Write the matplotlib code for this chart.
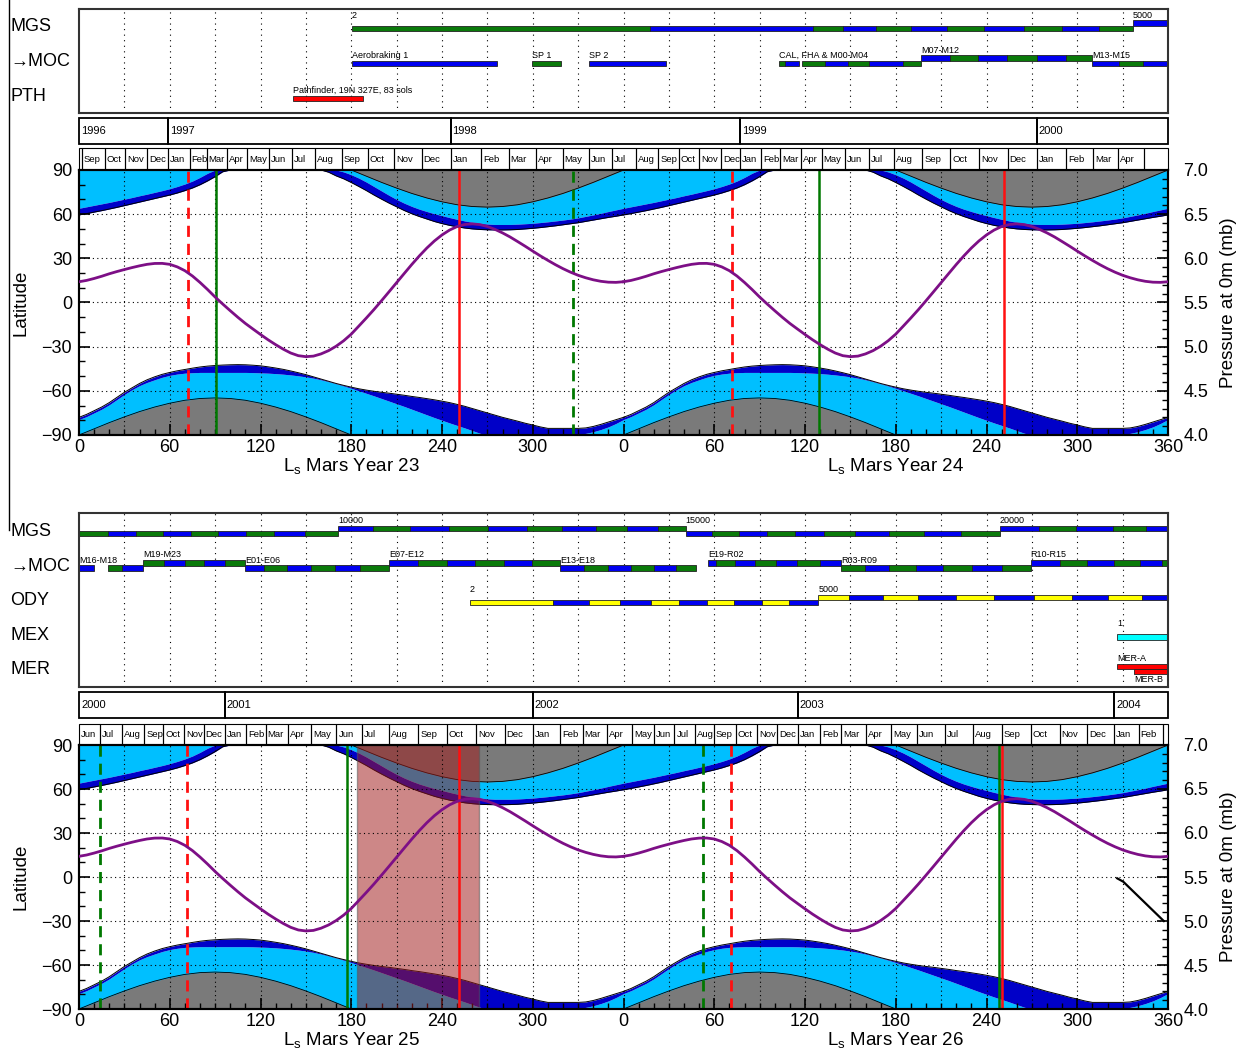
import matplotlib
matplotlib.use('Agg')
import matplotlib.pyplot as plt
import matplotlib.transforms as mtransforms
from matplotlib.patches import Rectangle
from matplotlib.lines import Line2D
import numpy as np

plt.rcParams['font.family'] = ['Liberation Sans', 'DejaVu Sans']
plt.rcParams['mathtext.fontset'] = 'custom'
plt.rcParams['mathtext.rm'] = 'Liberation Sans'

# ---- seasonal climatology, one Mars year (Ls step 5) ----
LS = list(range(0, 361, 5))
N_CAP_IN = [64.0, 65.0, 66.0, 67.0, 68.0, 69.1, 70.2, 71.3, 72.5, 73.6, 74.8, 76.0, 77.3, 78.8,
            80.5, 82.5, 85.0, 87.8, 90, 90, 90, 90, 90, 90, 90, 90, 90, 90, 90, 90, 90, 90, 90,
            90, 90, 88.7, 86.8, 84.5, 81.8, 78.8, 75.8, 72.8, 70.0, 67.5, 65.3, 63.4, 61.8, 60.3,
            59.0, 57.7, 56.5, 55.4, 54.5, 53.8, 53.3, 53.0, 53.0, 53.0, 53.2, 53.5, 53.8, 54.3,
            54.8, 55.4, 56.0, 56.7, 57.5, 58.5, 59.5, 60.6, 61.8, 62.9, 64.0]
N_CAP_OUT = [59.5, 60.4, 61.4, 62.4, 63.5, 64.6, 65.8, 67.0, 68.2, 69.4, 70.6, 71.8, 73.0, 74.4,
             76.0, 77.8, 80.0, 82.6, 85.5, 88.8, 90, 90, 90, 90, 90, 90, 90, 90, 90, 90, 90, 90,
             90, 88.5, 86.0, 84.0, 81.5, 78.8, 76.0, 73.0, 70.2, 67.5, 65.0, 62.5, 60.3, 58.4,
             56.7, 55.0, 53.6, 52.4, 51.4, 50.6, 50.0, 49.6, 49.4, 49.3, 49.3, 49.4, 49.6, 50.0,
             50.4, 50.9, 51.5, 52.1, 52.8, 53.5, 54.2, 55.1, 56.0, 56.9, 57.8, 58.6, 59.5]
S_CAP_IN = [-79.5, -77.5, -75, -72.5, -69.5, -66, -62.5, -59.3, -56.5, -54.3, -52.5, -50.8, -49.5,
            -48.6, -48.0, -47.7, -47.5, -47.5, -47.5, -47.5, -47.5, -47.5, -47.5, -47.6, -47.8,
            -48.0, -48.3, -48.7, -49.2, -49.8, -50.5, -51.4, -52.5, -53.8, -55.2, -56.7, -58.3,
            -60.0, -61.7, -63.4, -65.2, -67.0, -68.8, -70.6, -72.5, -74.4, -76.3, -78.2, -80.0,
            -81.8, -83.5, -85.2, -87.0, -88.8, -90, -90, -90, -90, -90, -90, -90, -90, -90, -90,
            -90, -90, -89.6, -88.9, -87.8, -86.3, -84.5, -82.2, -79.5]
S_CAP_OUT = [-78, -76, -73.5, -71, -68, -64.5, -61, -58, -55, -52.5, -50.5, -48.8, -47.5, -46.4,
             -45.5, -44.6, -43.8, -43.2, -42.8, -42.5, -42.3, -42.2, -42.3, -42.6, -43.0, -43.7,
             -44.5, -45.4, -46.5, -47.7, -49.0, -50.5, -52.0, -53.5, -55.0, -56.3, -57.5, -58.6,
             -59.5, -60.3, -61.0, -61.6, -62.3, -63.0, -63.8, -64.5, -65.3, -66.1, -67.0, -68.0,
             -69.2, -70.5, -72.0, -73.5, -75.0, -76.5, -78.0, -79.3, -80.6, -82.0, -83.2, -84.5,
             -85.5, -85.5, -85.5, -85.5, -85.5, -85.2, -84.2, -82.8, -81.2, -79.6, -78]
LS_N_NIGHT = list(range(180, 361, 10))
N_NIGHT = [90, 85.8, 81.6, 77.7, 74.1, 71.0, 68.4, 66.4, 65.2, 64.8, 65.2, 66.4, 68.4, 71.0, 74.1,
           77.7, 81.6, 85.8, 90]
LS_S_NIGHT = list(range(0, 181, 10))
S_NIGHT = [-90, -85.8, -81.6, -77.7, -74.1, -71.0, -68.4, -66.4, -65.2, -64.8, -65.2, -66.4, -68.4,
           -71.0, -74.1, -77.7, -81.6, -85.8, -90]
PRESSURE = [5.735, 5.750, 5.772, 5.797, 5.825, 5.850, 5.873, 5.895, 5.915, 5.932, 5.942, 5.943,
            5.932, 5.903, 5.860, 5.800, 5.727, 5.647, 5.562, 5.483, 5.407, 5.333, 5.263, 5.200,
            5.138, 5.078, 5.023, 4.972, 4.928, 4.898, 4.887, 4.893, 4.918, 4.955, 5.005, 5.067,
            5.142, 5.233, 5.325, 5.420, 5.520, 5.622, 5.725, 5.828, 5.930, 6.027, 6.117, 6.197,
            6.265, 6.320, 6.360, 6.383, 6.390, 6.382, 6.360, 6.328, 6.288, 6.242, 6.190, 6.137,
            6.082, 6.028, 5.977, 5.928, 5.883, 5.843, 5.808, 5.780, 5.757, 5.740, 5.730, 5.728,
            5.735]

# ---- event lines (Ls over two Mars years) ----
TOP_VLINES = [(72, 'r', '--'), (432, 'r', '--'), (90.6, 'g', '-'), (489, 'g', '-'),
              (251, 'r', '-'), (611.6, 'r', '-'), (326.6, 'g', '--')]
BOT_VLINES = [(14, 'g', '--'), (412.6, 'g', '--'), (71.4, 'r', '--'), (431, 'r', '--'),
              (177, 'g', '-'), (608.3, 'g', '-'), (251, 'r', '-'), (610.4, 'r', '-')]
DUST_STORM = (184, 264.5)
BLACK_LS = [686.4, 690.4, 717.2]
BLACK_P = [5.485, 5.447, 5.0]

# ---- calendar bars ----
TOP_YEARS = ['1996', '1997', '1998', '1999', '2000']
TOP_YEAR_EDGES = [0, 58.8, 245.7, 436.9, 633.2, 720]
TOP_MONTHS = ['', 'Sep', 'Oct', 'Nov', 'Dec', 'Jan', 'Feb', 'Mar', 'Apr', 'May', 'Jun', 'Jul', 'Aug',
              'Sep', 'Oct', 'Nov', 'Dec', 'Jan', 'Feb', 'Mar', 'Apr', 'May', 'Jun', 'Jul', 'Aug',
              'Sep', 'Oct', 'Nov', 'Dec', 'Jan', 'Feb', 'Mar', 'Apr', 'May', 'Jun', 'Jul', 'Aug',
              'Sep', 'Oct', 'Nov', 'Dec', 'Jan', 'Feb', 'Mar', 'Apr', '']
TOP_MONTH_EDGES = [0, 2.0, 17.0, 30.3, 45.0, 58.8, 73.2, 84.4, 98.0, 111.1, 125.5, 140.6, 156.0,
                   173.9, 190.8, 208.3, 226.6, 245.7, 266.0, 284.1, 302.4, 319.7, 337.2, 352.3,
                   368.2, 383.1, 396.5, 410.2, 424.6, 436.9, 450.8, 463.4, 477.1, 491.0, 506.7,
                   522.2, 538.7, 557.6, 576.0, 595.1, 614.0, 633.2, 652.8, 670.7, 686.9, 704.0, 720]
BOT_YEARS = ['2000', '2001', '2002', '2003', '2004']
BOT_YEAR_EDGES = [0, 96.2, 300.0, 475.2, 684.3, 720]
BOT_MONTHS = ['Jun', 'Jul', 'Aug', 'Sep', 'Oct', 'Nov', 'Dec', 'Jan', 'Feb', 'Mar', 'Apr', 'May',
              'Jun', 'Jul', 'Aug', 'Sep', 'Oct', 'Nov', 'Dec', 'Jan', 'Feb', 'Mar', 'Apr', 'May',
              'Jun', 'Jul', 'Aug', 'Sep', 'Oct', 'Nov', 'Dec', 'Jan', 'Feb', 'Mar', 'Apr', 'May',
              'Jun', 'Jul', 'Aug', 'Sep', 'Oct', 'Nov', 'Dec', 'Jan', 'Feb', '']
BOT_MONTH_EDGES = [0, 13.9, 28.2, 43.2, 55.7, 69.6, 82.4, 96.2, 110.3, 123.4, 138.5, 153.7, 170.2,
                   186.9, 205.2, 224.3, 243.0, 262.7, 281.5, 300.0, 318.3, 333.0, 349.4, 365.6,
                   380.0, 393.7, 407.5, 419.8, 434.3, 448.2, 461.8, 475.2, 490.2, 503.8, 520.3,
                   536.9, 553.9, 572.8, 591.2, 610.2, 629.2, 648.4, 666.4, 684.3, 700.6, 716.6, 720]

# ---- mission timelines: (start Ls, end Ls, colour, level) ----
MGS_TOP = [(180.5, 377.5, 'g', 0), (377.5, 485.3, 'b', 0), (485.3, 505.1, 'g', 0),
           (505.1, 526.9, 'b', 0), (526.9, 549.8, 'g', 0), (549.8, 573.9, 'b', 0),
           (573.9, 598.6, 'g', 0), (598.6, 624.8, 'b', 0), (624.8, 649.9, 'g', 0),
           (649.9, 674.6, 'b', 0), (674.6, 696.9, 'g', 0), (696.9, 720, 'b', 1)]
MGS_TOP_LABELS = [(180.5, '2', 1, 'above'), (696.9, '5000', 1, 'above')]
MOC_TOP = [(180.5, 276.4, 'b', 0), (299.5, 318.7, 'g', 0), (337.2, 387.8, 'b', 0),
           (462.8, 466.8, 'g', 0), (466.8, 476.0, 'b', 0), (478.3, 493.2, 'g', 0),
           (493.2, 508.4, 'b', 0), (508.4, 522.3, 'g', 0), (522.3, 544.8, 'b', 0),
           (544.8, 556.7, 'g', 0), (556.7, 575.9, 'b', 1), (575.9, 594.4, 'g', 1),
           (594.4, 613.6, 'b', 1), (613.6, 633.4, 'g', 1), (633.4, 652.6, 'b', 1),
           (652.6, 669.8, 'g', 1), (669.8, 687.5, 'b', 0), (687.5, 703.5, 'g', 0),
           (703.5, 720, 'b', 0)]
MOC_TOP_LABELS = [(180.5, 'Aerobraking 1', 0, 'above'), (299.5, 'SP 1', 0, 'above'),
                  (337.2, 'SP 2', 0, 'above'), (462.8, 'CAL, FHA & M00-M04', 0, 'above'),
                  (556.7, 'M07-M12', 1, 'above'), (669.8, 'M13-M15', 0, 'above')]
PTH_TOP = [(141.7, 187.6, 'r', 0)]
PTH_TOP_LABELS = [(141.7, 'Pathfinder, 19N 327E, 83 sols', 0, 'above')]

MGS_BOT = [(0, 19.2, 'g', 0), (19.2, 38.0, 'b', 0), (38.0, 55.5, 'g', 0), (55.5, 74.0, 'b', 0),
           (74.0, 91.9, 'g', 0), (91.9, 110.1, 'b', 0), (110.1, 129.1, 'g', 0),
           (129.1, 149.4, 'b', 0), (149.4, 171.2, 'g', 0), (171.2, 194.7, 'b', 1),
           (194.7, 218.8, 'g', 1), (218.8, 244.6, 'b', 1), (244.6, 270.4, 'g', 1),
           (270.4, 295.9, 'b', 1), (295.9, 319.3, 'g', 1), (319.3, 342.1, 'b', 1),
           (342.1, 362.3, 'g', 1), (362.3, 382.6, 'b', 1), (382.6, 401.0, 'g', 1),
           (401.0, 418.8, 'b', 0), (418.8, 436.6, 'g', 0), (436.6, 454.7, 'b', 0),
           (454.7, 473.1, 'g', 0), (473.1, 492.8, 'b', 0), (492.8, 513.1, 'g', 0),
           (513.1, 535.3, 'b', 0), (535.3, 558.4, 'g', 0), (558.4, 583.1, 'b', 0),
           (583.1, 608.9, 'g', 0), (608.9, 635.0, 'b', 1), (635.0, 659.2, 'g', 1),
           (659.2, 683.6, 'b', 1), (683.6, 705.3, 'g', 1), (705.3, 720, 'b', 1)]
MGS_BOT_LABELS = [(171.2, '10000', 1, 'above'), (401.0, '15000', 1, 'above'),
                  (608.9, '20000', 1, 'above')]
MOC_BOT = [(0, 9.7, 'b', 0), (19.2, 28.2, 'g', 0), (28.2, 42.3, 'b', 0), (42.3, 56.2, 'g', 1),
           (56.2, 69.8, 'b', 1), (69.8, 82.4, 'g', 1), (82.4, 96.2, 'b', 1), (96.2, 109.8, 'g', 1),
           (109.8, 122.3, 'b', 0), (122.3, 137.3, 'g', 0), (137.3, 153.4, 'b', 0),
           (153.4, 169.1, 'g', 0), (169.1, 186.1, 'b', 0), (186.1, 205.2, 'g', 0),
           (205.2, 224.1, 'b', 1), (224.1, 243.0, 'g', 1), (243.0, 261.8, 'b', 1),
           (261.8, 281.0, 'g', 1), (281.0, 299.8, 'b', 1), (299.8, 318.3, 'g', 1),
           (318.3, 333.9, 'b', 0), (333.9, 349.8, 'g', 0), (349.8, 365.0, 'b', 0),
           (365.0, 380.0, 'g', 0), (380.0, 394.4, 'b', 0), (394.4, 407.9, 'g', 0),
           (415.9, 421.2, 'b', 1), (421.2, 433.7, 'g', 1), (433.7, 447.0, 'b', 1),
           (447.0, 460.8, 'g', 1), (460.8, 474.7, 'b', 1), (474.7, 489.7, 'g', 1),
           (489.7, 503.8, 'b', 1), (503.8, 519.5, 'g', 0), (519.5, 535.5, 'b', 0),
           (535.5, 553.6, 'g', 0), (553.6, 571.5, 'b', 0), (571.5, 590.4, 'g', 0),
           (590.4, 610.2, 'b', 0), (610.2, 629.2, 'g', 0), (629.2, 648.4, 'b', 1),
           (648.4, 666.2, 'g', 1), (666.2, 684.3, 'b', 1), (684.3, 701.4, 'g', 1),
           (701.4, 715.8, 'b', 1), (715.8, 720, 'g', 1)]
MOC_BOT_LABELS = [(0, 'M16-M18', 0, 'above'), (42.3, 'M19-M23', 1, 'above'),
                  (109.8, 'E01-E06', 0, 'above'), (205.2, 'E07-E12', 1, 'above'),
                  (318.3, 'E13-E18', 0, 'above'), (415.9, 'E19-R02', 1, 'above'),
                  (503.8, 'R03-R09', 0, 'above'), (629.2, 'R10-R15', 1, 'above')]
ODY_BOT = [(258.5, 313.4, 'y', 0), (313.4, 337.2, 'b', 0), (337.2, 357.7, 'y', 0),
           (357.7, 378.2, 'b', 0), (378.2, 397.0, 'y', 0), (397.0, 415.2, 'b', 0),
           (415.2, 433.1, 'y', 0), (433.1, 451.6, 'b', 0), (451.6, 469.7, 'y', 0),
           (469.7, 488.9, 'b', 0), (488.9, 509.1, 'y', 1), (509.1, 531.4, 'b', 1),
           (531.4, 554.4, 'y', 1), (554.4, 579.8, 'b', 1), (579.8, 605.0, 'y', 1),
           (605.0, 631.4, 'b', 1), (631.4, 656.3, 'y', 1), (656.3, 680.3, 'b', 1),
           (680.3, 702.7, 'y', 1), (702.7, 720, 'b', 1)]
ODY_BOT_LABELS = [(258.5, '2', 1, 'above'), (488.9, '5000', 1, 'above')]
MEX_BOT = [(686.3, 720, 'c', 0)]
MEX_BOT_LABELS = [(686.3, '1', 1, 'above')]
MER_BOT = [(686.3, 720, 'r', 1), (697.5, 720, 'r', 0)]
MER_BOT_LABELS = [(686.3, 'MER-A', 1, 'above'), (697.5, 'MER-B', 0, 'below')]

BAR_COLORS = {'g': '#0a7a0a', 'b': '#0000f0', 'y': '#ffff00', 'c': '#00ffff', 'r': '#ff0000'}
LINE_COLORS = {'r': '#ff1010', 'g': '#007800'}
LIGHT = '#00bfff'
DARK = '#0000c8'
GRAY = '#7a7a7a'
PURPLE = '#7d0f86'

W, H = 1243, 1055
fig = plt.figure(figsize=(W / 100, H / 100), dpi=100)


def place(top, bottom):
    return fig.add_axes([79 / W, 1 - bottom / H, (1168 - 79) / W, (bottom - top) / H])


BAR_H = 0.16
STEP = 0.15


def draw_timeline(ax, rows, top_pad, bottom_pad):
    n = len(rows)
    ax.set_xlim(0, 720)
    ax.set_ylim(n - 1 + bottom_pad, -top_pad)
    ax.set_xticks([])
    ax.set_yticks([])
    for s in ax.spines.values():
        s.set_linewidth(1.5)
        s.set_color('#333333')
    for x in range(30, 720, 30):
        ax.axvline(x, color='k', lw=0.8, ls=(0, (1, 4)), zorder=0)
    tr = mtransforms.blended_transform_factory(fig.transFigure, ax.transData)
    for i, (name, segs, labels) in enumerate(rows):
        ax.text(10 / W, i - 0.05, name, transform=tr, fontsize=13, va='center', ha='left')
        for a, b, c, lev in segs:
            ax.barh(i - lev * STEP, b - a, left=a, height=BAR_H, color=BAR_COLORS[c],
                    edgecolor='#222222', lw=0.6, zorder=2)
        for x, txt, lev, side in labels:
            if side == 'above':
                ax.text(x, i - lev * STEP - BAR_H / 2 - 0.02, txt, fontsize=6.5,
                        va='bottom', ha='left', zorder=3)
            else:
                ax.text(x, i - lev * STEP + BAR_H / 2 + 0.03, txt, fontsize=6.5,
                        va='top', ha='left', zorder=3)


def draw_boxes(ax, edges, names, fs, lw):
    ax.set_xlim(0, 720)
    ax.set_ylim(0, 1)
    ax.axis('off')
    for k, name in enumerate(names):
        a, b = edges[k], edges[k + 1]
        ax.add_patch(Rectangle((a, 0), b - a, 1, fill=False, edgecolor='black', lw=lw,
                               clip_on=False))
        if name:
            ax.text(a + 1.3, 0.5, name, fontsize=fs, va='center', ha='left')


def draw_main(ax, vlines, year_names, dust=None, black=None):
    ax.set_xlim(0, 720)
    ax.set_ylim(-90, 90)
    for o in (0, 360):
        ls = np.array(LS) + o
        ax.fill_between(ls, N_CAP_IN, 90, color=LIGHT, lw=0, zorder=1)
        ax.fill_between(ls, N_CAP_OUT, N_CAP_IN, color=DARK, lw=0, zorder=1)
        ax.fill_between(ls, -90, S_CAP_IN, color=LIGHT, lw=0, zorder=1)
        ax.fill_between(ls, S_CAP_IN, S_CAP_OUT, color=DARK, lw=0, zorder=1)
        ax.fill_between(np.array(LS_N_NIGHT) + o, N_NIGHT, 90, color=GRAY, lw=0, zorder=1.5)
        ax.fill_between(np.array(LS_S_NIGHT) + o, -90, S_NIGHT, color=GRAY, lw=0, zorder=1.5)
        ax.plot(ls, N_CAP_OUT, color='k', lw=0.7, zorder=1.8)
        ax.plot(ls, S_CAP_OUT, color='k', lw=0.7, zorder=1.8)
        ax.plot(np.array(LS_N_NIGHT) + o, N_NIGHT, color='k', lw=0.6, zorder=1.8)
        ax.plot(np.array(LS_S_NIGHT) + o, S_NIGHT, color='k', lw=0.6, zorder=1.8)
    if dust:
        ax.axvspan(dust[0], dust[1], facecolor=(0.63, 0.11, 0.11), alpha=0.53,
                   edgecolor='#555555', lw=1, zorder=2.5)
    for x in range(30, 720, 30):
        ax.axvline(x, color='k', lw=0.8, ls=(0, (1, 3)), zorder=3)
    for y in (-60, -30, 0, 30, 60):
        ax.axhline(y, color='k', lw=0.8, ls=(0, (1, 3)), zorder=3)
    for x, c, st in vlines:
        if st == '--':
            ax.axvline(x, color=LINE_COLORS[c], lw=2, ls=(0, (4, 2.5)), zorder=4)
        else:
            ax.axvline(x, color=LINE_COLORS[c], lw=1.8, zorder=4)
    ax.set_xticks(range(0, 721, 60))
    ax.set_xticklabels([str(v % 360) if v < 720 else '360' for v in range(0, 721, 60)])
    ax.set_xticks(range(0, 721, 10), minor=True)
    ax.set_yticks(range(-90, 91, 30))
    ax.set_yticks(range(-90, 91, 10), minor=True)
    ax.tick_params(which='both', direction='in', labelsize=13, top=False, right=False)
    ax.tick_params(which='major', length=8, width=1.2)
    ax.tick_params(which='minor', length=4, width=1)
    ax.tick_params(axis='x', pad=3)
    ax.tick_params(axis='y', pad=5)
    ax.set_ylabel('Latitude', fontsize=13.5)
    ax.yaxis.set_label_coords(-0.045, 0.5)
    for s in ax.spines.values():
        s.set_linewidth(1.5)
        s.set_zorder(6)
    tr = mtransforms.blended_transform_factory(ax.transData, ax.transAxes)
    for xc, yn in zip((180, 540), year_names):
        ax.text(xc, -0.12, r'L$_{\mathregular{s}}$ Mars Year ' + yn, transform=tr,
                fontsize=13.5, ha='center', va='center')

    ax2 = ax.twinx()
    ax2.set_ylim(4.0, 7.0)
    ax2.set_xlim(0, 720)
    ax2.set_yticks(np.arange(4.0, 7.01, 0.5))
    ax2.set_yticklabels(['%.1f' % v for v in np.arange(4.0, 7.01, 0.5)])
    ax2.set_yticks(np.arange(4.0, 7.01, 0.1), minor=True)
    ax2.tick_params(which='both', direction='in', labelsize=13, pad=11)
    ax2.tick_params(which='major', length=8, width=1.2)
    ax2.tick_params(which='minor', length=4, width=1)
    ax2.set_ylabel('Pressure at 0m (mb)', fontsize=13.5, rotation=90)
    ax2.yaxis.set_label_coords(1.048, 0.5)
    for o in (0, 360):
        ax2.plot(np.array(LS) + o, PRESSURE, color=PURPLE, lw=2, zorder=5)
    if black:
        ax2.plot(black[0], black[1], color='k', lw=1.6, zorder=5)
    for s in ax2.spines.values():
        s.set_linewidth(1.5)


# ---- top half: Mars years 23-24 ----
ax = place(9, 113)
draw_timeline(ax, [('MGS', MGS_TOP, MGS_TOP_LABELS), ('\u2192MOC', MOC_TOP, MOC_TOP_LABELS),
                   ('PTH', PTH_TOP, PTH_TOP_LABELS)], 0.557, 0.414)
draw_boxes(place(118, 144), TOP_YEAR_EDGES, TOP_YEARS, 8, 1.3)
draw_boxes(place(148, 170), TOP_MONTH_EDGES, TOP_MONTHS, 6.8, 0.8)
draw_main(place(170, 435), TOP_VLINES, ('23', '24'))

# ---- bottom half: Mars years 25-26 ----
ax = place(513, 687)
draw_timeline(ax, [('MGS', MGS_BOT, MGS_BOT_LABELS), ('\u2192MOC', MOC_BOT, MOC_BOT_LABELS),
                   ('ODY', ODY_BOT, ODY_BOT_LABELS), ('MEX', MEX_BOT, MEX_BOT_LABELS),
                   ('MER', MER_BOT, MER_BOT_LABELS)], 0.594, 0.449)
draw_boxes(place(692, 718), BOT_YEAR_EDGES, BOT_YEARS, 8, 1.3)
draw_boxes(place(724, 745), BOT_MONTH_EDGES, BOT_MONTHS, 6.8, 0.8)
draw_main(place(745, 1009), BOT_VLINES, ('25', '26'), dust=DUST_STORM,
          black=(BLACK_LS, BLACK_P))

fig.add_artist(Line2D([9 / W, 9 / W], [1, 1 - 530 / H], color='black', lw=1))

fig.savefig('out.png', dpi=100)
